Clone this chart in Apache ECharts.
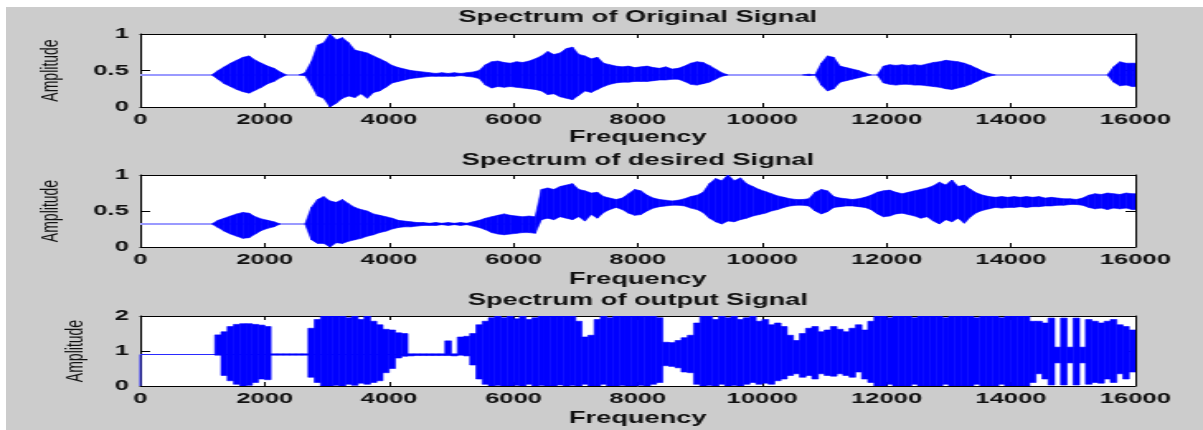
<!DOCTYPE html>
<html>
<head>
<meta charset="utf-8">
<script src="https://cdn.jsdelivr.net/npm/echarts@6/dist/echarts.min.js"></script>
<style>
  html, body { margin: 0; padding: 0; background: #ffffff; overflow: hidden; }
  #frame { position: absolute; left: 6px; top: 7px; width: 1197px; height: 423px; background: #cccccc; }
  /* the figure is laid out on a narrower canvas and widened horizontally */
  #chart { position: absolute; left: 0; top: 0; width: 729px; height: 430px;
           transform: scaleX(1.650206); transform-origin: 0 0; }
</style>
</head>
<body>
<div id="frame"></div>
<div id="chart"></div>
<script>
// Spectrum envelopes in 100 Hz bins (bin i covers i*100 .. i*100+100 Hz): upper and lower extremes of the trace.
const freqStep = 100;
const freqMax = 16000;
const titles = ['Spectrum of Original Signal', 'Spectrum of desired Signal', 'Spectrum of output Signal'];
const xTicks = [0, 2000, 4000, 6000, 8000, 10000, 12000, 14000, 16000];

const origHi = [
  0.44,0.44,0.44,0.44,0.44,0.44,0.44,0.44,0.44,0.44,0.44,0.44,
  0.50,0.55,0.60,0.64,0.68,0.70,0.64,0.60,0.56,0.53,0.48,
  0.44,0.44,0.44,0.47,
  0.62,0.85,0.88,1.00,0.92,0.95,0.88,0.78,0.76,0.74,0.70,0.66,0.62,0.57,0.54,0.52,0.50,0.49,0.48,0.47,
  0.46,0.47,0.46,0.47,0.46,0.47,0.48,0.50,
  0.58,0.62,0.63,0.61,0.60,0.62,0.61,0.63,0.66,0.70,0.76,0.72,0.74,0.80,0.82,0.72,0.70,0.66,0.68,0.60,
  0.58,0.56,0.55,0.56,0.54,0.55,0.56,0.54,0.53,0.55,0.52,0.53,0.56,0.60,0.62,0.61,0.57,0.52,0.47,
  0.44,0.44,0.44,0.44,0.44,0.44,0.44,0.44,0.44,0.44,0.44,0.44,0.44,0.45,0.44,
  0.60,0.70,0.68,0.56,0.54,0.52,0.50,0.47,0.44,0.44,
  0.56,0.58,0.57,0.58,0.57,0.58,0.57,0.59,0.61,0.62,0.64,0.63,0.62,0.60,0.57,0.53,0.49,0.46,
  0.44,0.44,0.44,0.44,0.44,0.44,0.44,0.44,0.44,0.44,0.44,0.44,0.44,0.44,0.44,0.44,0.44,0.44,0.44,
  0.55,0.62,0.60,0.60
];
const origLo = [
  0.44,0.44,0.44,0.44,0.44,0.44,0.44,0.44,0.44,0.44,0.44,0.44,
  0.38,0.32,0.28,0.24,0.21,0.19,0.23,0.27,0.32,0.35,0.40,
  0.44,0.44,0.44,0.43,
  0.30,0.15,0.12,0.00,0.05,0.12,0.15,0.13,0.18,0.12,0.20,0.22,0.27,0.33,0.35,0.37,0.39,0.40,0.41,0.42,
  0.42,0.42,0.42,0.42,0.43,0.42,0.41,0.39,
  0.30,0.26,0.28,0.27,0.28,0.27,0.26,0.25,0.24,0.22,0.17,0.18,0.14,0.12,0.10,0.16,0.22,0.20,0.24,0.28,
  0.31,0.33,0.34,0.34,0.35,0.35,0.35,0.36,0.37,0.37,0.38,0.38,0.35,0.31,0.30,0.32,0.34,0.38,0.42,
  0.44,0.44,0.44,0.44,0.44,0.44,0.44,0.44,0.44,0.44,0.44,0.44,0.44,0.43,0.44,
  0.30,0.22,0.25,0.34,0.36,0.38,0.40,0.42,0.44,0.44,
  0.33,0.31,0.30,0.31,0.31,0.30,0.30,0.29,0.28,0.27,0.25,0.24,0.26,0.28,0.31,0.35,0.39,0.42,
  0.44,0.44,0.44,0.44,0.44,0.44,0.44,0.44,0.44,0.44,0.44,0.44,0.44,0.44,0.44,0.44,0.44,0.44,0.44,
  0.34,0.29,0.30,0.28
];
const origBase = [[0, 0.44], [16000, 0.44]];

const desHi = [
  0.32,0.32,0.32,0.32,0.32,0.32,0.32,0.32,0.32,0.32,0.32,0.32,
  0.37,0.40,0.43,0.46,0.48,0.47,0.42,0.39,0.37,0.35,
  0.32,0.32,0.32,0.32,0.32,
  0.55,0.66,0.70,0.64,0.62,0.66,0.60,0.55,0.52,0.50,0.46,0.44,0.42,0.40,0.37,0.36,0.35,0.34,0.34,0.33,
  0.34,0.33,0.34,0.33,0.34,0.33,0.35,0.37,0.40,0.42,0.44,0.46,0.44,0.43,0.42,0.43,0.42,
  0.80,0.82,0.80,0.84,0.86,0.88,0.80,0.78,0.75,0.76,0.70,0.68,0.66,0.68,0.74,0.80,0.78,0.72,0.68,0.66,
  0.65,0.64,0.65,0.67,0.70,0.72,0.76,0.88,0.95,0.92,1.00,0.92,0.96,0.88,0.84,0.80,0.77,0.74,0.71,0.69,
  0.67,0.66,0.66,0.67,0.76,0.80,0.78,0.70,0.68,0.67,0.66,0.67,0.69,0.72,0.76,0.78,0.79,0.76,0.74,0.76,
  0.78,0.80,0.82,0.85,0.90,0.86,0.93,0.84,0.86,0.80,0.75,0.72,0.70,0.69,0.70,0.69,0.70,0.69,0.70,0.69,
  0.70,0.68,0.69,0.68,0.67,0.67,0.66,0.68,0.72,0.74,0.73,0.75,0.74,0.73,0.75,0.74
];
const desLo = [
  0.32,0.32,0.32,0.32,0.32,0.32,0.32,0.32,0.32,0.32,0.32,0.32,
  0.27,0.22,0.18,0.15,0.12,0.13,0.18,0.23,0.26,0.28,
  0.32,0.32,0.32,0.32,0.32,
  0.10,0.05,0.05,0.00,0.06,0.05,0.08,0.10,0.12,0.15,0.17,0.20,0.22,0.25,0.27,0.28,0.28,0.29,0.30,0.30,
  0.30,0.31,0.30,0.31,0.30,0.31,0.29,0.27,0.24,0.20,0.18,0.17,0.18,0.19,0.20,0.20,0.19,
  0.38,0.40,0.38,0.42,0.40,0.38,0.42,0.36,0.45,0.40,0.48,0.52,0.55,0.52,0.47,0.44,0.45,0.50,0.54,0.56,
  0.57,0.58,0.58,0.57,0.54,0.52,0.48,0.40,0.35,0.32,0.36,0.35,0.38,0.40,0.43,0.45,0.47,0.50,0.52,0.55,
  0.57,0.58,0.58,0.57,0.50,0.46,0.49,0.55,0.56,0.57,0.57,0.56,0.55,0.52,0.46,0.42,0.43,0.46,0.47,0.45,
  0.43,0.40,0.42,0.36,0.32,0.38,0.35,0.40,0.33,0.42,0.48,0.51,0.53,0.55,0.54,0.55,0.55,0.56,0.55,0.56,
  0.56,0.57,0.57,0.58,0.58,0.59,0.59,0.58,0.55,0.53,0.54,0.52,0.54,0.53,0.54,0.52
];
const desBase = [[0, 0.32], [6400, 0.32]];

const outHi = [
  0.90,0.90,0.90,0.90,0.90,0.90,0.90,0.90,0.90,0.90,0.90,0.90,
  1.46,1.55,1.70,1.76,1.78,1.78,1.76,1.74,1.70,
  0.92,0.92,0.92,0.92,0.92,0.92,
  1.65,1.90,2.00,2.00,2.00,2.00,1.95,2.00,1.90,2.00,1.85,1.75,1.62,1.60,1.52,1.50,
  0.92,0.92,0.92,0.92,0.92,0.92,1.29,0.92,1.40,1.42,
  1.50,1.75,1.85,1.95,2.00,1.95,2.00,1.92,2.00,1.90,1.95,2.00,2.00,2.00,2.00,2.00,2.00,1.85,1.40,1.45,
  1.90,2.00,1.95,2.00,2.00,2.00,2.00,2.00,2.00,2.00,1.95,
  1.25,1.24,1.30,1.38,1.45,
  1.80,2.00,2.00,1.90,2.00,1.95,2.00,1.90,1.95,2.00,1.85,1.90,1.75,1.80,1.70,1.45,1.30,1.50,1.65,1.70,
  1.55,1.60,1.70,1.62,1.55,1.65,1.75,1.60,
  1.85,2.00,2.00,1.95,2.00,2.00,2.00,1.95,2.00,2.00,2.00,2.00,1.95,2.00,2.00,2.00,2.00,1.95,2.00,2.00,
  2.00,1.95,2.00,2.00,2.00,2.00,1.85,1.85,1.80,
  1.94,1.11,1.94,1.11,1.94,1.11,1.90,1.85,1.80,1.85,1.90,1.75,1.70,1.60
];
const outLo = [
  0.90,0.90,0.90,0.90,0.90,0.90,0.90,0.90,0.90,0.90,0.90,0.90,
  0.88,0.30,0.15,0.05,0.00,0.02,0.10,0.20,0.18,
  0.88,0.88,0.88,0.88,0.88,0.88,
  0.25,0.10,0.00,0.00,0.02,0.00,0.05,0.02,0.08,0.05,0.10,0.15,0.38,0.50,0.80,0.85,
  0.86,0.87,0.87,0.87,0.87,0.87,0.87,0.86,0.88,0.86,
  0.60,0.20,0.05,0.00,0.02,0.00,0.00,0.02,0.00,0.05,0.00,0.02,0.00,0.00,0.03,0.00,0.02,0.00,0.05,0.00,
  0.00,0.05,0.00,0.00,0.02,0.00,0.00,0.02,0.00,0.05,0.10,
  0.58,0.56,0.52,0.40,0.38,
  0.05,0.00,0.02,0.00,0.05,0.00,0.02,0.00,0.05,0.10,0.05,0.08,0.05,0.15,0.20,0.30,0.35,0.25,0.30,0.20,
  0.35,0.30,0.28,0.35,0.30,0.25,0.40,0.20,
  0.10,0.00,0.00,0.05,0.00,0.00,0.00,0.05,0.00,0.00,0.00,0.00,0.05,0.00,0.00,0.00,0.00,0.05,0.00,0.00,
  0.00,0.05,0.00,0.00,0.00,0.00,0.10,0.35,0.20,
  0.03,0.66,0.03,0.66,0.03,0.66,0.05,0.10,0.08,0.20,0.10,0.35,0.20,0.40
];
// the output trace starts at zero and climbs to its resting level
const outBase = [[0, 0], [0, 0.9], [5300, 0.9]];

const FONT = '"Liberation Sans", Arial, Helvetica, sans-serif';
const TXT = '#111111';
const BLUE = '#0000ff';
const GRID_LEFT = 85, GRID_RIGHT = 41, INNER_W = 729;

const panels = [
  { hi: origHi, lo: origLo, base: origBase, baseColor: '#9a9aff', baseWidth: 2, step: false,
    yMax: 1, yStep: 0.5, top: 34,  height: 73, yGap: 47, titleTop: 9,   xGap: 22 },
  { hi: desHi,  lo: desLo,  base: desBase,  baseColor: '#9a9aff', baseWidth: 2, step: false,
    yMax: 1, yStep: 0.5, top: 175, height: 72, yGap: 47, titleTop: 152, xGap: 24 },
  { hi: outHi,  lo: outLo,  base: outBase,  baseColor: '#2a2aff', baseWidth: 1, step: true,
    yMax: 2, yStep: 1,   top: 316, height: 70, yGap: 32, titleTop: 292, xGap: 24 }
];

// Items are [from, to, lo at from, hi at from, lo at to, hi at to].
// Stepped envelopes hold each bin's extremes across the bin; the others run
// from one bin centre to the next, holding the end bins out to the axis limits.
function envelopeItems(hi, lo, stepped) {
  const n = hi.length, items = [];
  if (stepped) {
    for (let i = 0; i < n; i++) {
      items.push([i * freqStep, (i + 1) * freqStep, lo[i], hi[i], lo[i], hi[i]]);
    }
    return items;
  }
  const centre = i => i * freqStep + freqStep / 2;
  for (let i = 0; i <= n; i++) {
    const a = Math.max(i - 1, 0), b = Math.min(i, n - 1);
    const x0 = i === 0 ? 0 : centre(a);
    const x1 = i === n ? freqMax : centre(b);
    items.push([x0, x1, lo[a], hi[a], lo[b], hi[b]]);
  }
  return items;
}

function renderEnvelope(params, api) {
  const f0 = api.value(0), f1 = api.value(1);
  const lo0 = api.value(2), hi0 = api.value(3), lo1 = api.value(4), hi1 = api.value(5);
  if (hi0 === lo0 && hi1 === lo1) return null;   // no oscillation here
  const pts = [api.coord([f0, hi0]), api.coord([f1, hi1]), api.coord([f1, lo1]), api.coord([f0, lo0])];
  return { type: 'polygon', shape: { points: pts },
           style: { fill: BLUE, stroke: BLUE, lineWidth: 0.6 } };
}

const grid = [], xAxis = [], yAxis = [], series = [], title = [];
panels.forEach((p, k) => {
  grid.push({ left: GRID_LEFT, right: GRID_RIGHT, top: p.top, height: p.height,
              show: true, backgroundColor: '#ffffff', borderWidth: 0 });
  title.push({ text: titles[k], left: (GRID_LEFT + (INNER_W - GRID_RIGHT)) / 2, top: p.titleTop,
               textAlign: 'center', padding: 0,
               textStyle: { fontSize: 16.5, fontWeight: 'bold', color: TXT, fontFamily: FONT } });
  const axLine = { show: true, onZero: false, lineStyle: { color: '#000000', width: 1 } };
  const tickX = { show: true, inside: true, length: 4, lineStyle: { color: '#000000' } };
  const tickY = { show: true, inside: true, length: 6, lineStyle: { color: '#000000' } };
  xAxis.push({ gridIndex: k, type: 'value', min: 0, max: freqMax, interval: 2000, position: 'bottom',
               axisLine: axLine, axisTick: tickX,
               axisLabel: { fontSize: 15.5, fontWeight: 'bold', color: TXT, fontFamily: FONT, margin: 5,
                            formatter: v => xTicks.includes(v) ? String(v) : '' },
               splitLine: { show: false },
               name: 'Frequency', nameLocation: 'middle', nameGap: p.xGap,
               nameTextStyle: { fontSize: 16.5, fontWeight: 'bold', color: TXT, fontFamily: FONT } });
  xAxis.push({ gridIndex: k, type: 'value', min: 0, max: freqMax, interval: 2000, position: 'top',
               axisLine: axLine, axisTick: tickX, axisLabel: { show: false }, splitLine: { show: false } });
  yAxis.push({ gridIndex: k, type: 'value', min: 0, max: p.yMax, interval: p.yStep, position: 'left',
               axisLine: axLine, axisTick: tickY,
               axisLabel: { fontSize: 15.5, fontWeight: 'bold', color: TXT, fontFamily: FONT, margin: 7 },
               splitLine: { show: false },
               name: 'Amplitude', nameLocation: 'middle', nameRotate: 90, nameGap: p.yGap,
               nameTextStyle: { fontSize: 14, color: TXT, fontFamily: FONT } });
  yAxis.push({ gridIndex: k, type: 'value', min: 0, max: p.yMax, interval: p.yStep, position: 'right',
               axisLine: axLine, axisTick: tickY, axisLabel: { show: false }, splitLine: { show: false } });

  const axes = { xAxisIndex: 2 * k, yAxisIndex: 2 * k };
  // resting level underneath, oscillating envelope on top of it
  series.push(Object.assign({ type: 'line', data: p.base, symbol: 'none', silent: true, z: 1,
                              lineStyle: { color: p.baseColor, width: p.baseWidth } }, axes));
  series.push(Object.assign({ type: 'custom', data: envelopeItems(p.hi, p.lo, p.step), z: 3,
                              renderItem: renderEnvelope, silent: true, clip: true,
                              encode: { x: [0, 1], y: [2, 3, 4, 5] } }, axes));
});

const chart = echarts.init(document.getElementById('chart'), null, { renderer: 'canvas' });
chart.setOption({ animation: false, backgroundColor: 'transparent', title, grid, xAxis, yAxis, series });
</script>
</body>
</html>
